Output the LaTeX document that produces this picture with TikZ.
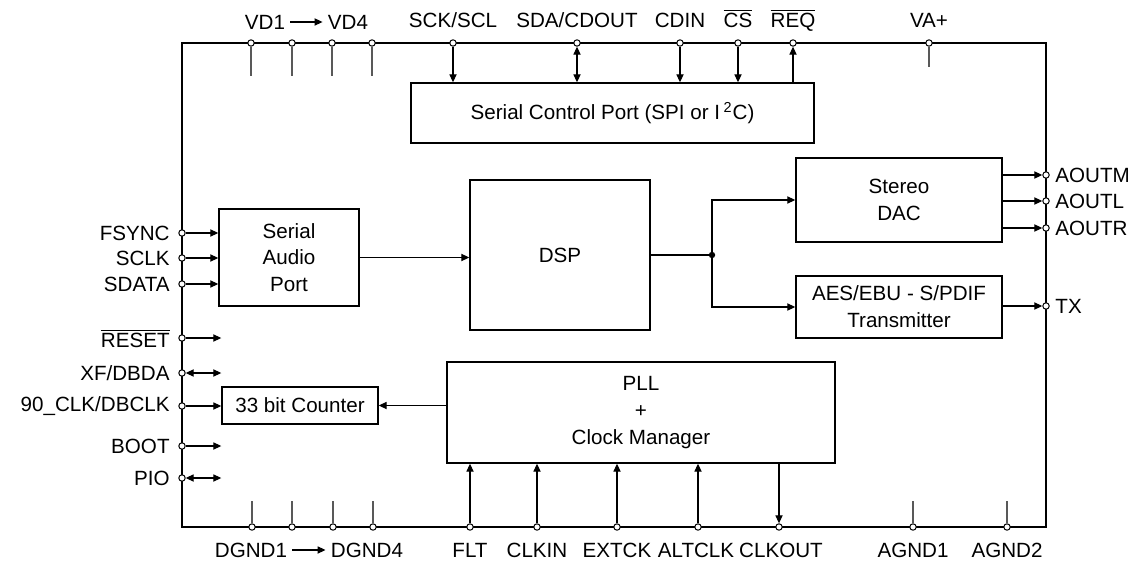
\documentclass[tikz,border=0pt]{standalone}
\usepackage{fontspec}
\setmainfont{Liberation Sans}
\usetikzlibrary{arrows.meta,calc,positioning}
\newcommand{\ovl}[1]{$\overline{\hbox{#1}}$}

\begin{document}
\begin{tikzpicture}[x=0.5pt,y=-0.5pt,
  font=\fontsize{10.3}{12.4}\selectfont,
  blk/.style={draw,line width=0.7pt,inner sep=0pt,align=center},
  pin/.style={circle,draw,fill=white,inner sep=0pt,minimum size=3.2pt,line width=0.5pt},
  lbl/.style={inner sep=2.5pt},
  sig/.style={line width=0.55pt},
  stub/.style={line width=0.55pt,black!65},
  tip/.style={-{Triangle[length=4pt,width=3.6pt]}},
  bitip/.style={{Triangle[length=4pt,width=3.6pt]}-{Triangle[length=4pt,width=3.6pt]}}]
  \useasboundingbox (0,0) rectangle (1133,561);
  % chip outline
  \draw[line width=1.4pt] (182,43) rectangle (1046,527);
  % function blocks
  \node[blk,minimum width=201.5pt,minimum height=30pt] (scp) at (612.5,113) {Serial Control Port (SPI or I\,\textsuperscript{2}C)};
  \node[blk,minimum width=70pt,minimum height=48.5pt] (sap) at (289,257.5) {Serial\\[1pt]Audio\\[1pt]Port};
  \node[blk,minimum width=90pt,minimum height=75pt] (dsp) at (560,255) {DSP};
  \node[blk,minimum width=103pt,minimum height=42pt] (dac) at (899,200) {Stereo\\[1pt]DAC};
  \node[blk,minimum width=103pt,minimum height=31pt] (aes) at (899,307) {AES/EBU - S/PDIF\\[1pt]Transmitter};
  \node[blk,minimum width=78pt,minimum height=18.5pt] (cnt) at (300,405.5) {33 bit Counter};
  \node[blk,minimum width=194pt,minimum height=50.5pt] (pll) at (641,412.5) {PLL\\[1pt]+\\[1pt]Clock Manager};
  % pins, top edge
  \foreach \n/\x in {VDa/251,VDb/292,VDc/332,VDd/372,SCK/453,SDA/577,CDIN/680,CS/738,REQ/793,VA/929}
    \node[pin] (p\n) at (\x,43) {};
  % pins, bottom edge
  \foreach \n/\x in {DGa/252,DGb/292,DGc/333,DGd/373,FLT/470,CLKIN/537,EXTCK/617,ALTCLK/698,CLKOUT/779,AGa/913,AGb/1007}
    \node[pin] (p\n) at (\x,527) {};
  % pins, left and right edges
  \foreach \n/\y in {FSYNC/233,SCLK/258,SDATA/284,RESET/338,XF/373,CLK/406,BOOT/446,PIO/478}
    \node[pin] (p\n) at (182,\y) {};
  \foreach \n/\y in {AOUTM/175,AOUTL/201,AOUTR/228,TX/306}
    \node[pin] (p\n) at (1046,\y) {};
  % unused supply pins
  \foreach \n in {VDa,VDb,VDc,VDd}
    \draw[stub] (p\n.south) -- ++(0,29);
  \draw[stub] (pVA.south) -- ++(0,20);
  \foreach \n in {DGa,DGb,DGc,DGd,AGa,AGb}
    \draw[stub] (p\n.north) -- ++(0,-22);
  % control port
  \draw[sig,tip] (pSCK) -- (pSCK |- scp.north);
  \draw[sig,bitip] (pSDA) -- (pSDA |- scp.north);
  \draw[sig,tip] (pCDIN) -- (pCDIN |- scp.north);
  \draw[sig,tip] (pCS) -- (pCS |- scp.north);
  \draw[sig,tip] (pREQ |- scp.north) -- (pREQ);
  % audio path
  \foreach \n in {FSYNC,SCLK,SDATA}
    \draw[sig,tip] (p\n) -- (p\n -| sap.west);
  \draw[sig,tip] (sap.east) -- (sap.east -| dsp.west);
  \coordinate (jn) at (712,255);
  \draw[sig] (dsp.east) -- (jn);
  \draw[sig,tip] (jn) |- (dac.west);
  \draw[sig,tip] (jn) |- (aes.west);
  \fill (jn) circle (1.6pt);
  \foreach \n in {AOUTM,AOUTL,AOUTR}
    \draw[sig,tip] (p\n -| dac.east) -- (p\n);
  \draw[sig,tip] (pTX -| aes.east) -- (pTX);
  % misc left pins
  \draw[sig,tip] (pRESET) -- (pRESET -| cnt.west);
  \draw[sig,bitip] (pXF) -- (pXF -| cnt.west);
  \draw[sig,tip] (pCLK) -- (pCLK -| cnt.west);
  \draw[sig,tip] (pBOOT) -- (pBOOT -| cnt.west);
  \draw[sig,bitip] (pPIO) -- (pPIO -| cnt.west);
  \draw[sig,tip] (cnt.east -| pll.west) -- (cnt.east);
  % clock pins
  \foreach \n in {FLT,CLKIN,EXTCK,ALTCLK}
    \draw[sig,tip] (p\n) -- (p\n |- pll.south);
  \draw[sig,tip] (pCLKOUT |- pll.south) -- (pCLKOUT);
  % pin names
  \node[lbl] (lVDa) at (265,22) {VD1};
  \node[lbl] (lVDd) at (348,22) {VD4};
  \draw[sig,tip] (lVDa.east) -- (lVDd.west);
  \foreach \n/\t in {SCK/{SCK/SCL},SDA/{SDA/CDOUT},CDIN/CDIN,CS/\ovl{CS},REQ/\ovl{REQ},VA/VA+}
    \node[lbl,anchor=base] (l\n) at ($(p\n)+(0,-15)$) {\t};
  \node[lbl] (lDGa) at (251,550) {DGND1};
  \node[lbl] (lDGd) at (367,550) {DGND4};
  \draw[sig,tip] (lDGa.east) -- (lDGd.west);
  \foreach \n/\t/\dx in {FLT/FLT/0,CLKIN/CLKIN/0,EXTCK/EXTCK/0,ALTCLK/ALTCLK/-2,CLKOUT/CLKOUT/2,AGa/AGND1/0,AGb/AGND2/0}
    \node[lbl] (l\n) at ($(p\n)+(\dx,23)$) {\t};
  \foreach \n/\t in {FSYNC/FSYNC,SCLK/SCLK,SDATA/SDATA,RESET/\ovl{RESET},XF/{XF/DBDA},CLK/{90\_CLK/DBCLK},BOOT/BOOT,PIO/PIO}
    \node[lbl,anchor=east] (l\n) at ($(p\n)+(-7,0)$) {\t};
  \foreach \n in {AOUTM,AOUTL,AOUTR,TX}
    \node[lbl,anchor=west] (l\n) at ($(p\n)+(4,0)$) {\n};
\end{tikzpicture}
\end{document}
